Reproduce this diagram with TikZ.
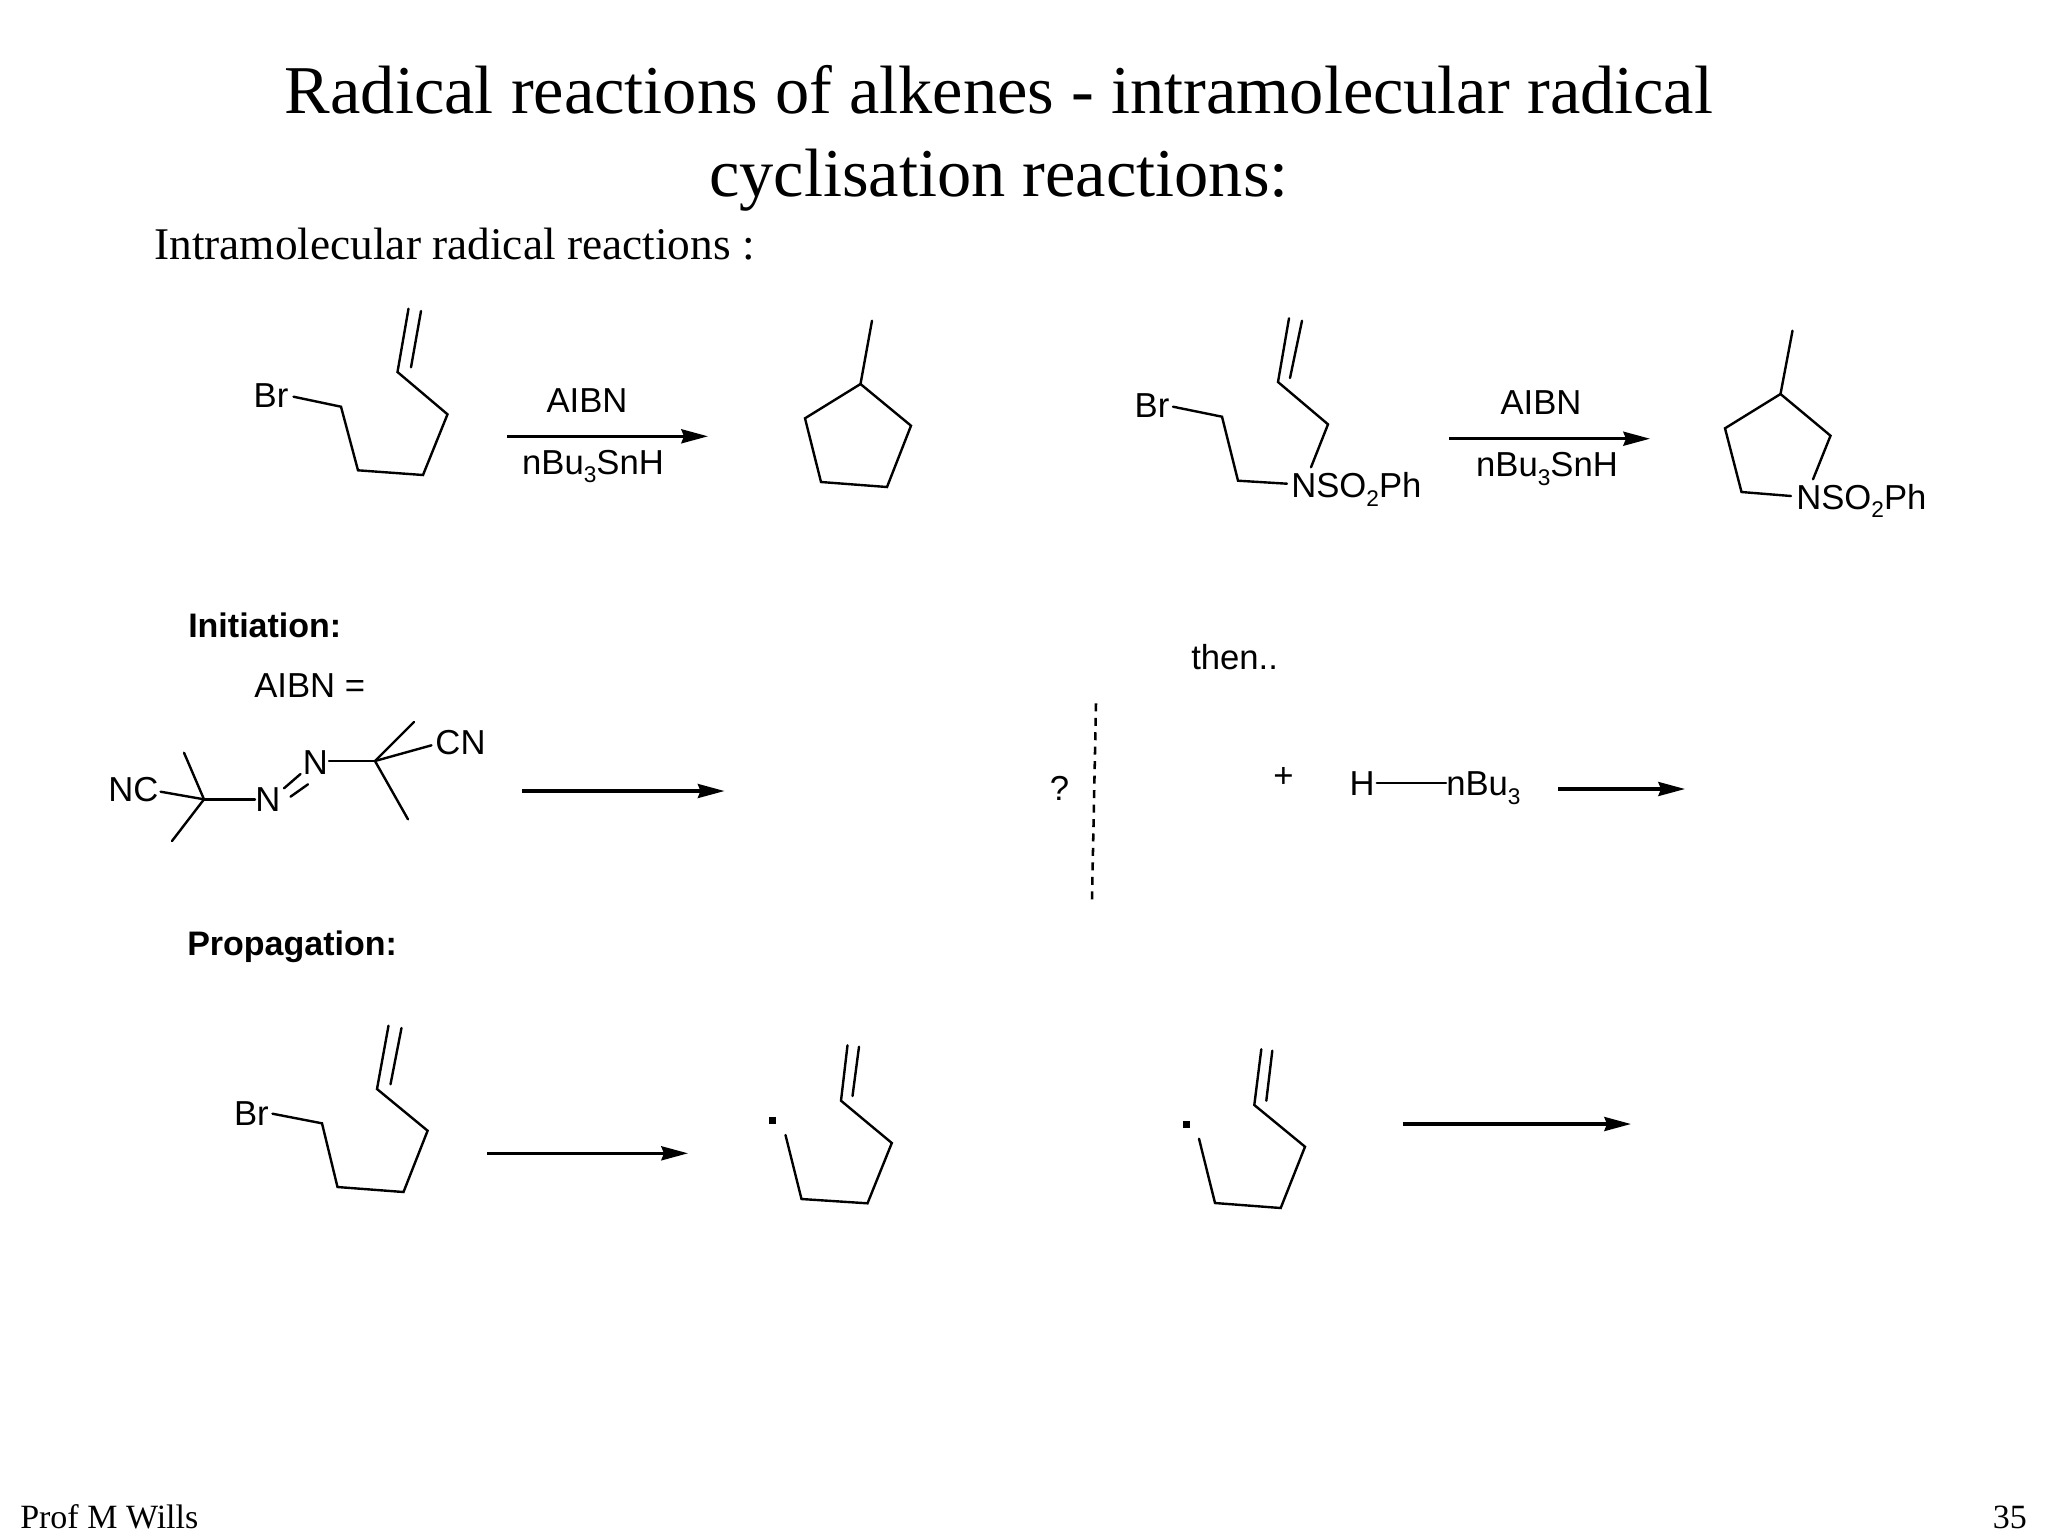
\documentclass[tikz,border=0pt]{standalone}
\usepackage{fontspec}
\setmainfont{Liberation Serif}
\newfontfamily\arialf{Liberation Sans}
\usetikzlibrary{arrows.meta}
\newcommand{\subsc}[1]{\raisebox{-.24em}{\fontsize{17}{20}\selectfont #1}}
\tikzset{
  bond/.style={line width=1.8pt,line cap=round,line join=miter,black},
  rxn/.style={line width=2.3pt,black,-{Stealth[length=20pt,width=10.5pt,inset=2pt]}},
  chem/.style={font=\arialf\fontsize{26}{30}\selectfont,inner sep=0pt,anchor=base},
  chemw/.style={chem,anchor=base west},
  boldlab/.style={chemw,font=\arialf\bfseries\fontsize{25.5}{30}\selectfont},
  slidetitle/.style={inner sep=0pt,anchor=base,font=\fontsize{51.3}{60}\selectfont},
  bodytext/.style={inner sep=0pt,anchor=base west,font=\fontsize{34}{40}\selectfont},
  foot/.style={inner sep=0pt,font=\fontsize{25.5}{28}\selectfont},
  raddot/.style={fill=black,draw=none},
  sep/.style={line width=1.9pt,black,dash pattern=on 6pt off 4.85pt}
}
\begin{document}
\begin{tikzpicture}[x=0.75pt,y=-0.75pt]
\useasboundingbox (0,0) rectangle (2048,1536);
% titles
\node[slidetitle] (t1) at (999,113.5) {Radical reactions of alkenes - intramolecular radical};
\node[slidetitle] (t2) at (999,196.5) {cyclisation reactions:};
\node[bodytext] (t3) at (154,259) {Intramolecular radical reactions :};
\node[foot,anchor=base west] (prof) at (20,1528) {Prof M Wills};
\node[foot,anchor=base east] (page) at (2027,1528) {35};

% reaction 1
\node[chem] (br1) at (271,407.7) {Br};
\draw[bond] (293.5,396.7) -- (341,406.7) -- (358,470.3) -- (423,475) -- (447.5,414.3) -- (397.5,372) -- (408.5,308.7);
\draw[bond] (421,311) -- (411,367.3);
\draw[rxn] (507,436.3) -- (708,436.3);
\node[chem] (aibn1) at (587,412.3) {AIBN};
\node[chem] (bu1) at (593,474) {nBu\subsc{3}SnH};
\draw[bond] (872,320.7) -- (860.5,384);
\draw[bond] (860.5,384) -- (805,418.3) -- (821,482) -- (887,487) -- (911,425.7) -- cycle;

% reaction 2
\node[chem] (br2) at (1152,417.7) {Br};
\draw[bond] (1173,406.7) -- (1222,416.7) -- (1238,480.7) -- (1287,483.7);
\node[chemw] (n2) at (1291,497.7) {NSO\subsc{2}Ph};
\draw[bond] (1311,467.3) -- (1328,424.3) -- (1278,382) -- (1289,318.3);
\draw[bond] (1302,320.7) -- (1290,378);
\draw[rxn] (1449,438.7) -- (1650,438.7);
\node[chem] (aibn2) at (1541,414) {AIBN};
\node[chem] (bu2) at (1547,476.7) {nBu\subsc{3}SnH};
\draw[bond] (1792.5,330.7) -- (1780.5,394);
\draw[bond] (1813,479.3) -- (1830.5,435.7) -- (1780.5,394) -- (1725,428.3) -- (1741.5,492) -- (1791,496);
\node[chemw] (n3) at (1796,509.3) {NSO\subsc{2}Ph};

% initiation
\node[boldlab] (init) at (188,637.3) {Initiation:};
\node[chemw] (aibneq) at (254,697.3) {AIBN =};
\node[chemw] (nc) at (108,801.7) {NC};
\draw[bond] (160.6,791.7) -- (204,799.3);
\draw[bond] (184,752.7) -- (204,799.3) -- (172,841);
\draw[bond] (204,799.3) -- (255,799.3);
\node[chem] (n4) at (268,811.3) {N};
\draw[bond] (284,788.3) -- (300.5,774);
\draw[bond] (290.5,796.7) -- (308,784.3);
\node[chem] (n5) at (315.5,774.3) {N};
\draw[bond] (329,761) -- (375,761);
\draw[bond] (414,722) -- (375,761) -- (408,819.3);
\draw[bond] (375,761) -- (431.5,745.3);
\node[chem] (cn) at (460.5,754.3) {CN};
\draw[rxn] (522,791) -- (724.5,791);

% then
\node[chemw] (then) at (1191,669.3) {then..};
\node[chem] (q) at (1059.5,800.7) {?};
\draw[sep] (1096,703.3) -- (1092,899.3);
\node[chem,anchor=center] (plus) at (1283.5,777.3) {+};
\node[chem] (h) at (1362,795.7) {H};
\node[chemw] (bu3) at (1446,795.7) {nBu\subsc{3}};
\draw[bond] (h.east |- 0,782.7) ++(2,0) -- (bu3.west |- 0,782.7);
\draw[rxn] (1558,789) -- (1685,789);

% propagation
\node[boldlab] (prop) at (187,955) {Propagation:};
\node[chem] (br3) at (251.4,1125) {Br};
\draw[bond] (272.5,1113.7) -- (322,1123.3) -- (337.5,1187) -- (403.5,1192) -- (427.6,1130.7) -- (377,1089) -- (388.5,1025.7);
\draw[bond] (401.5,1028) -- (390.5,1084.3);
\draw[rxn] (487,1153.3) -- (688,1153.3);
\fill[raddot] (769,1116.5) rectangle (776,1123.5);
\draw[bond] (785.5,1135) -- (801.5,1199) -- (867.5,1203.3) -- (891.8,1143) -- (841,1100.7) -- (847.5,1045.3);
\draw[bond] (859,1046.7) -- (852.5,1096);
\fill[raddot] (1182.8,1120.5) rectangle (1189.8,1127.5);
\draw[bond] (1199,1138.7) -- (1215,1203) -- (1280.7,1208) -- (1305,1146.7) -- (1254.3,1105) -- (1261.3,1049.3);
\draw[bond] (1272.3,1050.7) -- (1266.3,1100.7);
\draw[rxn] (1402.7,1124) -- (1631,1124);
\end{tikzpicture}
\end{document}
